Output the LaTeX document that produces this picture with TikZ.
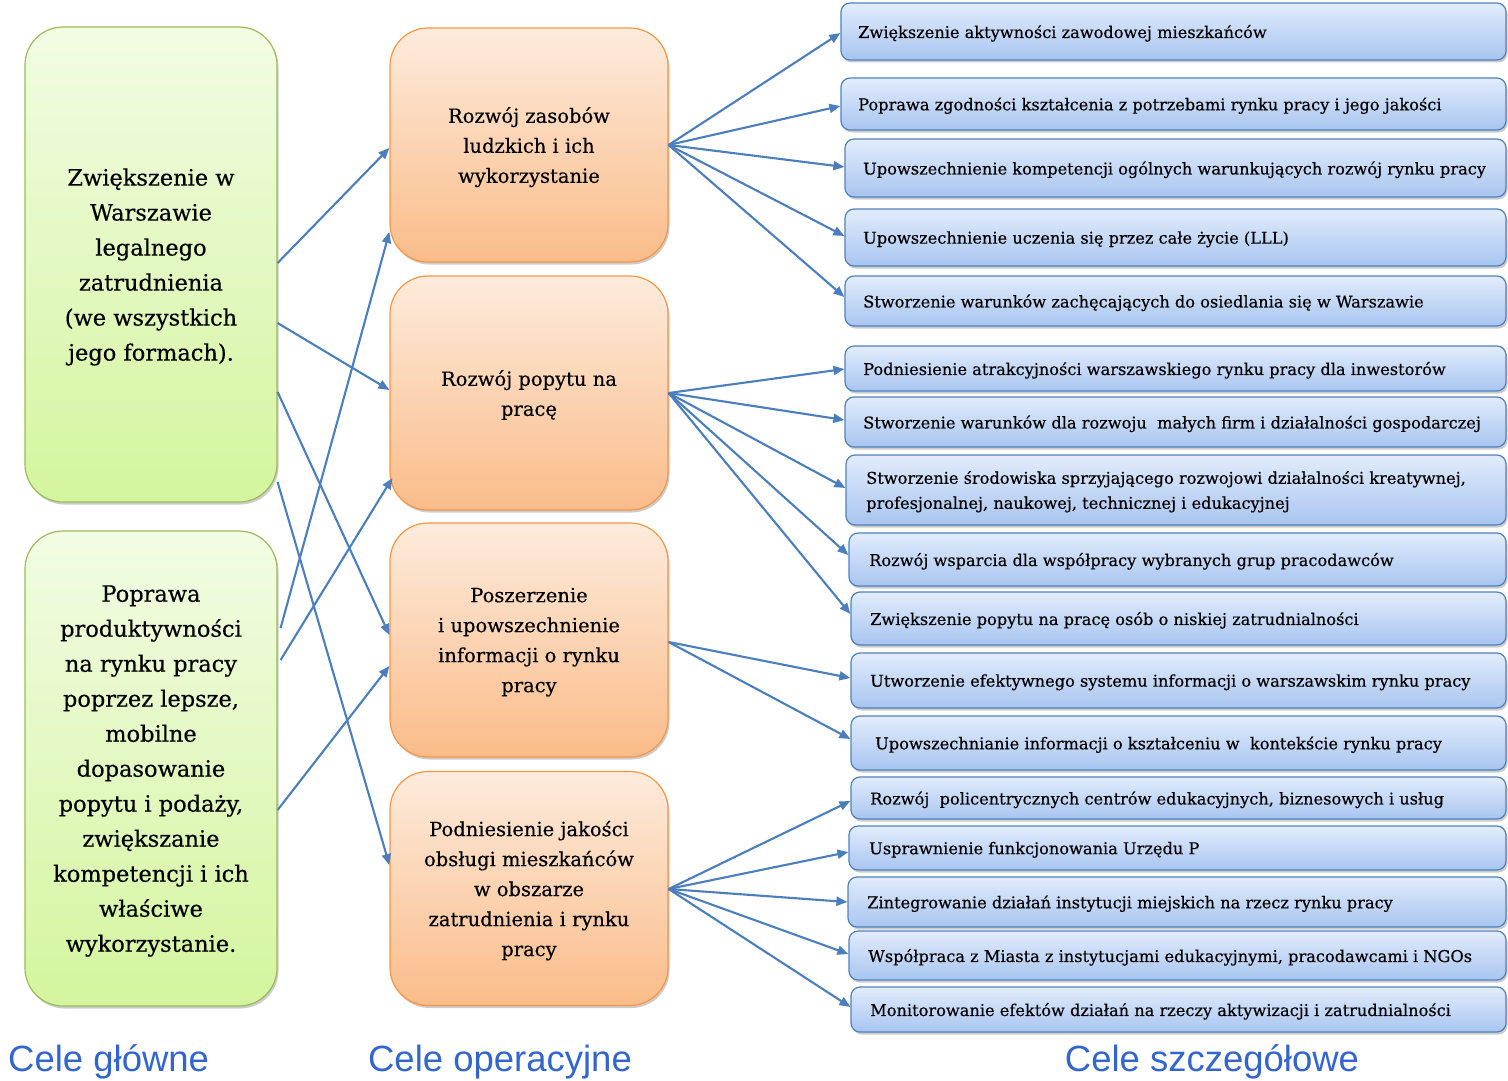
\documentclass[tikz,border=0pt]{standalone}
\usepackage{fontspec}
\setmainfont{DejaVu Serif}[FakeBold=0.4]
\newfontfamily\labelfont{Liberation Sans}
\usetikzlibrary{arrows.meta,shadows,calc}

\definecolor{arrowblue}{RGB}{74,126,189}
\definecolor{greentop}{RGB}{242,252,228}
\definecolor{greenbot}{RGB}{212,245,158}
\definecolor{greenborder}{RGB}{155,187,89}
\definecolor{orangetop}{RGB}{253,235,220}
\definecolor{orangebot}{RGB}{250,188,137}
\definecolor{orangeborder}{RGB}{247,150,70}
\definecolor{bluetop}{RGB}{226,236,252}
\definecolor{bluebot}{RGB}{168,197,240}
\definecolor{blueborder}{RGB}{79,129,189}
\definecolor{labelblue}{RGB}{51,102,204}

\tikzset{
  conn/.style={draw=arrowblue, line width=2.1pt, -{Triangle[length=11pt,width=9pt]}},
  softshadow/.style={drop shadow={shadow xshift=1.5pt, shadow yshift=-2.5pt, opacity=0.2, fill=black}},
  greenbox/.style={draw=greenborder, line width=1.2pt, rounded corners=38pt,
    top color=greentop, bottom color=greenbot, minimum width=252pt, minimum height=475pt,
    align=center, inner sep=0pt, text depth=0pt, font=\fontsize{22.5}{35}\selectfont, softshadow},
  orangebox/.style={draw=orangeborder, line width=1.2pt, rounded corners=38pt,
    top color=orangetop, bottom color=orangebot, minimum width=278pt, minimum height=234pt,
    align=center, inner sep=0pt, text depth=0pt, font=\fontsize{19.5}{30}\selectfont, softshadow},
  bluebox/.style={draw=blueborder, line width=1.2pt, rounded corners=9pt,
    top color=bluetop, bottom color=bluebot, inner sep=0pt, softshadow},
  bluetext/.style={anchor=west, inner sep=0pt, align=left, text depth=0pt, font=\fontsize{16.2}{25}\selectfont},
  lbl/.style={inner sep=0pt, text=labelblue, font=\labelfont\fontsize{36.5}{40}\selectfont}
}

\newcommand\mkbox[6]{%
  \node[bluebox, minimum width={1506-#2}, minimum height={#4-#3}] (#1) at ({(#2+1506)/2},{(#3+#4)/2}) {};
  \node[bluetext] (#1t) at (#5,{(#3+#4)/2}) {#6};
}

\begin{document}
\begin{tikzpicture}[x=1pt,y=-1pt]
\useasboundingbox (0,0) rectangle (1508,1081);

% main goals
\node[greenbox] (g1) at (151,264.5) {Zwiększenie w\\Warszawie\\legalnego\\zatrudnienia\\(we wszystkich\\jego formach).};
\node[greenbox] (g2) at (151,768.5) {Poprawa\\produktywności\\na rynku pracy\\poprzez lepsze,\\mobilne\\dopasowanie\\popytu i podaży,\\zwiększanie\\kompetencji i ich\\właściwe\\wykorzystanie.};

% operational goals
\node[orangebox] (o1) at (529,145) {Rozwój zasobów\\ludzkich i ich\\wykorzystanie};
\node[orangebox] (o2) at (529,393) {Rozwój popytu na\\pracę};
\node[orangebox] (o3) at (529,640) {Poszerzenie\\i upowszechnienie\\informacji o rynku\\pracy};
\node[orangebox] (o4) at (529,888.5) {Podniesienie jakości\\obsługi mieszkańców\\w obszarze\\zatrudnienia i rynku\\pracy};

% specific goals
\mkbox{b1}{841}{3}{60}{858}{Zwiększenie aktywności zawodowej mieszkańców}
\mkbox{b2}{841}{78}{130}{858}{Poprawa zgodności kształcenia z potrzebami rynku pracy i jego jakości}
\mkbox{b3}{845}{139}{197}{863}{Upowszechnienie kompetencji ogólnych warunkujących rozwój rynku pracy}
\mkbox{b4}{845}{209}{266}{863}{Upowszechnienie uczenia się przez całe życie (LLL)}
\mkbox{b5}{845}{276}{326}{863}{Stworzenie warunków zachęcających do osiedlania się w Warszawie}
\mkbox{b6}{845}{346}{391}{863}{Podniesienie atrakcyjności warszawskiego rynku pracy dla inwestorów}
\mkbox{b7}{845}{397}{447}{863}{Stworzenie warunków dla rozwoju \ małych firm i działalności gospodarczej}
\mkbox{b8}{846}{455}{525}{866}{Stworzenie środowiska sprzyjającego rozwojowi działalności kreatywnej,\\profesjonalnej, naukowej, technicznej i edukacyjnej}
\mkbox{b9}{849}{533}{586}{869}{Rozwój wsparcia dla współpracy wybranych grup pracodawców}
\mkbox{b10}{851}{592}{645}{870}{Zwiększenie popytu na pracę osób o niskiej zatrudnialności}
\mkbox{b11}{851}{653}{708}{870}{Utworzenie efektywnego systemu informacji o warszawskim rynku pracy}
\mkbox{b12}{851}{716}{770}{875}{Upowszechnianie informacji o kształceniu w \ kontekście rynku pracy}
\mkbox{b13}{851}{777}{819}{870}{Rozwój \ policentrycznych centrów edukacyjnych, biznesowych i usług}
\mkbox{b14}{849}{826}{870}{869}{Usprawnienie funkcjonowania Urzędu P}
\mkbox{b15}{848}{877}{927}{867}{Zintegrowanie działań instytucji miejskich na rzecz rynku pracy}
\mkbox{b16}{849}{931}{980}{868}{Współpraca z Miasta z instytucjami edukacyjnymi, pracodawcami i NGOs}
\mkbox{b17}{851}{987}{1032}{870}{Monitorowanie efektów działań na rzeczy aktywizacji i zatrudnialności}

% connectors main -> operational
\draw[conn] (g1.east |- 0,263) -- (o1.west |- 0,148);
\draw[conn] (g1.east |- 0,323) -- (o2.west |- 0,390);
\draw[conn] (g1.east |- 0,392) -- (o3.west |- 0,635);
\draw[conn] (g1.east |- 0,482) -- (o4.west |- 0,865);
\draw[conn] ($(g2.east |- 0,628)+(3,0)$) -- (o1.west |- 0,232);
\draw[conn] ($(g2.east |- 0,660)+(3,0)$) -- ($(o2.west |- 0,478)+(3,0)$);
\draw[conn] (g2.east |- 0,810) -- (o3.west |- 0,666);

% connectors operational -> specific
\draw[conn] (o1.east |- 0,145) -- (b1.west |- 0,33);
\draw[conn] (o1.east |- 0,145) -- (b2.west |- 0,106);
\draw[conn] (o1.east |- 0,145) -- (b3.west |- 0,167);
\draw[conn] (o1.east |- 0,145) -- (b4.west |- 0,236);
\draw[conn] (o1.east |- 0,145) -- (b5.west |- 0,297);

\draw[conn] (o2.east |- 0,393) -- (b6.west |- 0,369);
\draw[conn] (o2.east |- 0,393) -- (b7.west |- 0,420);
\draw[conn] (o2.east |- 0,393) -- (b8.west |- 0,488);
\draw[conn] (o2.east |- 0,393) -- (b9.west |- 0,555);
\draw[conn] (o2.east |- 0,393) -- (b10.west |- 0,614);

\draw[conn] (o3.east |- 0,642) -- (b11.west |- 0,678);
\draw[conn] (o3.east |- 0,642) -- (b12.west |- 0,739);

\draw[conn] (o4.east |- 0,889) -- (b13.west |- 0,801);
\draw[conn] (o4.east |- 0,889) -- (b14.west |- 0,852);
\draw[conn] (o4.east |- 0,889) -- (b15.west |- 0,902);
\draw[conn] (o4.east |- 0,889) -- (b16.west |- 0,954);
\draw[conn] (o4.east |- 0,889) -- (b17.west |- 0,1007);

% column labels
\node[lbl, anchor=base west] (l1) at (8,1071) {Cele główne};
\node[lbl, anchor=base] (l2) at (500,1071) {Cele operacyjne};
\node[lbl, anchor=base] (l3) at (1212,1071) {Cele szczegółowe};
\end{tikzpicture}
\end{document}
